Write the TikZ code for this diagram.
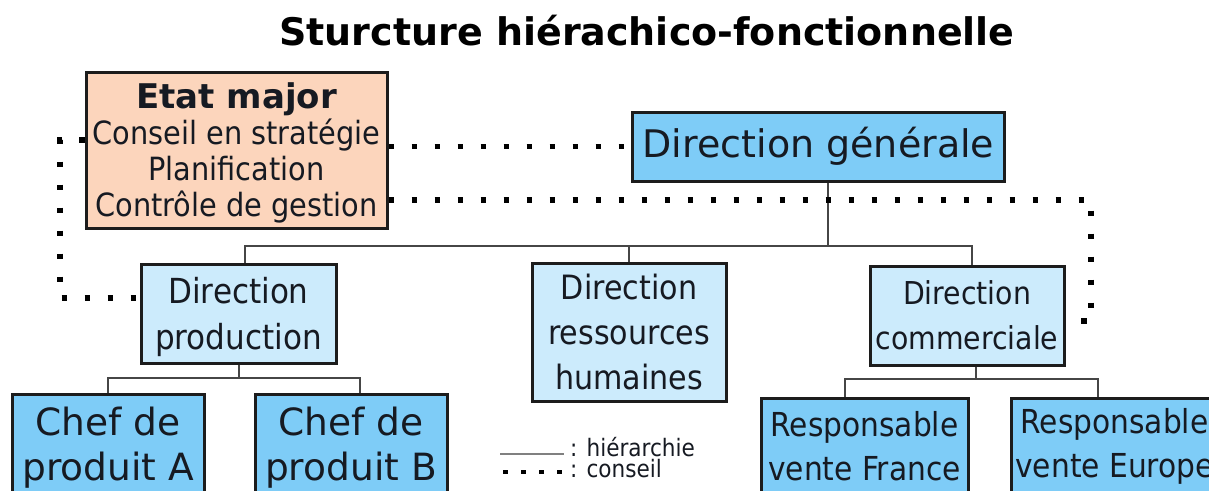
\documentclass[tikz,border=0pt]{standalone}
\usepackage{fontspec}
\setmainfont{DejaVu Sans}
\newfontfamily\cond{DejaVu Sans Condensed}
\usetikzlibrary{calc}

\definecolor{peach}{RGB}{252,213,188}
\definecolor{skyblue}{RGB}{126,204,247}
\definecolor{paleblue}{RGB}{204,235,252}
\definecolor{boxline}{RGB}{28,28,28}
\definecolor{linegray}{RGB}{70,70,70}
\definecolor{ink}{RGB}{22,26,34}

\begin{document}
\begin{tikzpicture}[x=1pt,y=-1pt,
  box/.style={draw=boxline, line width=3pt, inner sep=0pt, align=center, text=ink},
  strong/.style={box, fill=skyblue},
  soft/.style={box, fill=paleblue},
  hier/.style={draw=linegray, line width=2pt},
  cons/.style={draw=black, line width=5.5pt, dash pattern=on 5.5pt off 17.5pt},
  legcons/.style={draw=black, line width=4.5pt, dash pattern=on 4.5pt off 13.5pt},
  legtext/.style={inner sep=0pt, anchor=base west, text=ink, font=\cond\fontsize{24}{24}\selectfont}
]
\useasboundingbox (0,0) rectangle (1209,490);
\clip (0,0) rectangle (1209,490);

% title
\node[anchor=base, inner sep=0pt, text=black, font=\bfseries\fontsize{38}{44}\selectfont] (title) at (647,45)
  {Sturcture hiérachico-fonctionnelle};

% staff box
\node[box, fill=peach, minimum width=301, minimum height=156, text depth=0pt,
      font=\cond\fontsize{32}{36}\selectfont] (etat) at (236.5,150)
  {{\fontspec{DejaVu Sans}\bfseries\fontsize{34}{36}\selectfont Etat major}\\Conseil en stratégie\\Planification\\Contrôle de gestion};

% general management
\node[strong, minimum width=372, minimum height=69,
      font=\fontsize{38}{44}\selectfont] (dg) at (818.5,146.5) {Direction générale};

% departments
\node[soft, minimum width=195, minimum height=99, text depth=0pt,
      font=\cond\fontsize{34.5}{46}\selectfont] (dp) at (238.5,313.5) {Direction\\production};
\node[soft, minimum width=194, minimum height=138,
      font=\cond\fontsize{33.5}{45}\selectfont] (drh) at (629,332) {Direction\\ressources\\humaines};
\node[soft, minimum width=194, minimum height=99,
      font=\cond\fontsize{31.5}{45}\selectfont] (dc) at (967,315.5) {Direction\\commerciale};

% product managers
\node[strong, minimum width=192, minimum height=104, text depth=4pt,
      font=\fontsize{37.5}{45}\selectfont] (ca) at (108,446) {Chef de\\produit A};
\node[strong, minimum width=192, minimum height=104, text depth=4pt,
      font=\fontsize{37.5}{45}\selectfont] (cb) at (351,446) {Chef de\\produit B};

% sales managers
\node[strong, minimum width=207, minimum height=96,
      font=\cond\fontsize{33}{44}\selectfont] (rf) at (864.5,446) {Responsable\\vente France};
\node[strong, minimum width=207, minimum height=96,
      font=\cond\fontsize{33}{44}\selectfont] (re) at (1114.5,446) {Responsable\\vente Europe};

% hierarchy links
\draw[hier] ([xshift=9]dg.south) -- ++(0,63) coordinate (hub);
\draw[hier] (hub) -| ([xshift=6]dp.north);
\draw[hier] (hub) -| (drh.north);
\draw[hier] (hub) -| ([xshift=5]dc.north);
\draw[hier] (dp.south) -- ++(0,13) -| (ca.north);
\draw[hier] (dp.south) -- ++(0,13) -| ([xshift=9]cb.north);
\draw[hier] ([xshift=9]dc.south) -- ++(0,12) -| ([xshift=-20]rf.north);
\draw[hier] ([xshift=9]dc.south) -- ++(0,12) -| ([xshift=-17]re.north);

% advisory links
\coordinate (r1) at (1091,200);
\coordinate (r2) at (1091,321);
\coordinate (l1) at (60,140);
\coordinate (l2) at (60,298);
\draw[cons] (etat.east |- dg.west) -- (dg.west);
\draw[cons] (etat.east |- r1) -- (r1) -- (r2) -- (dc.east |- r2);
\draw[cons] (etat.west |- l1) -- (l1) -- (l2) -- (dp.west |- l2);

% legend
\coordinate (h0) at (500,454);
\coordinate (h1) at (564,454);
\coordinate (c0) at (503,472);
\coordinate (c1) at (566,472);
\draw[hier, line width=2.5pt, draw=gray] (h0) -- (h1);
\draw[legcons] (c0) -- (c1);
\node[legtext] (lh) at (570,456) {: hiérarchie};
\node[legtext] (lc) at (570,477) {: conseil};
\end{tikzpicture}
\end{document}
